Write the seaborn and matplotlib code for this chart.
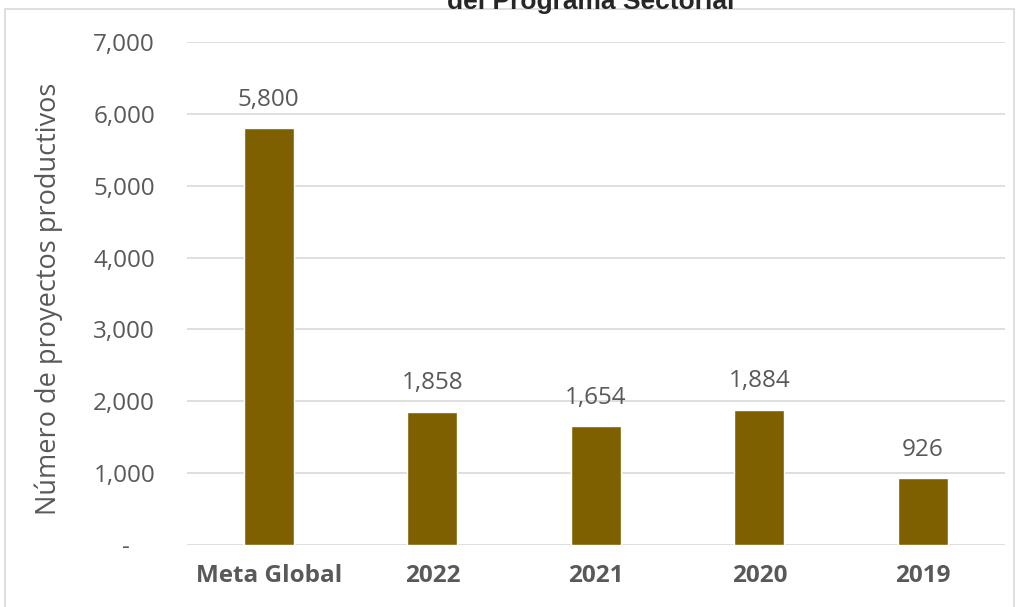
import matplotlib.pyplot as plt
import matplotlib.ticker as mticker
import seaborn as sns
from matplotlib.patches import Rectangle

# data
categories = ["Meta Global", "2022", "2021", "2020", "2019"]
proyectos = [5800, 1858, 1654, 1884, 926]
yticks = [0, 1000, 2000, 3000, 4000, 5000, 6000, 7000]

sns.set_theme(style="white")
plt.rcParams["font.family"] = ["Open Sans", "DejaVu Sans"]

fig = plt.figure(figsize=(10.18, 6.07), dpi=100)
ax = fig.add_axes([0.1837, 0.1021, 0.8033, 0.8287])

sns.barplot(x=categories, y=proyectos, color="#7F6000", saturation=1,
            width=0.305, ax=ax)

ax.set_ylim(0, 7000)
ax.set_yticks(yticks)
ax.yaxis.set_major_formatter(
    mticker.FuncFormatter(lambda v, p: "-    " if v == 0 else f"{int(v):,}"))
ax.grid(axis="y", color="#D9D9D9", linewidth=1.2)
ax.set_axisbelow(True)
for s in ax.spines.values():
    s.set_visible(False)
ax.tick_params(axis="y", length=0, pad=23, labelsize=17.5, labelcolor="#595959")
ax.tick_params(axis="x", length=0, pad=14, labelcolor="#595959")
for lbl in ax.get_xticklabels():
    lbl.set_fontweight("bold")
    lbl.set_fontsize(17.5)
ax.set_xlabel("")
ax.set_ylabel("Número de proyectos productivos", fontsize=19.5,
              color="#595959")
ax.yaxis.set_label_coords(-0.152, 0.49)

# data labels
for i, v in enumerate(proyectos):
    ax.annotate(f"{v:,}", (i, v), xytext=(0, 12), textcoords="offset points",
                ha="center", va="bottom", fontsize=17.5, color="#595959")

# outer frame and cut-off title
fig.patches.append(Rectangle((5 / 1018, -0.01), 1009 / 1018, 1 - 9 / 607 + 0.01,
                             transform=fig.transFigure, fill=False,
                             edgecolor="#D9D9D9", linewidth=1.2))
fig.text(0.58, 1 - 9 / 607, "del Programa Sectorial", ha="center",
         va="baseline", fontsize=19, fontweight="bold",
         family=["Liberation Sans", "DejaVu Sans"])

fig.savefig("out.png", dpi=100)
